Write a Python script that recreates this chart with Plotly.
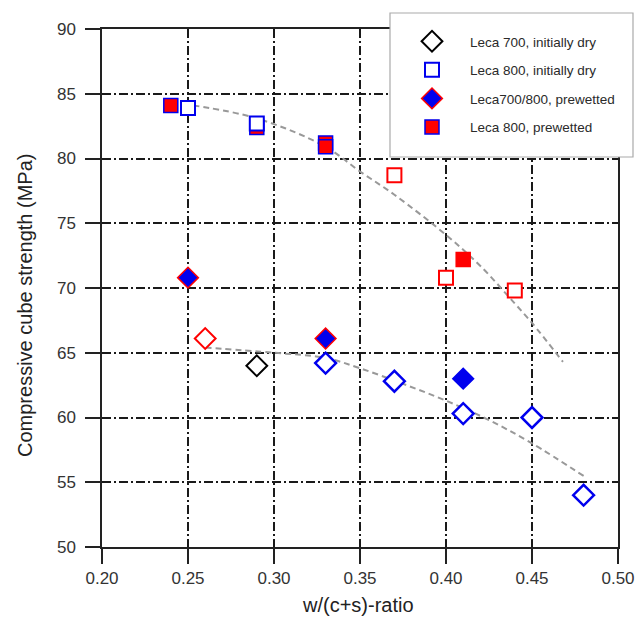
import plotly.graph_objects as go

# ---- data ----
dry700_x = [0.29]
dry700_y = [64.0]

dry800_x = [0.25, 0.29]
dry800_y = [83.9, 82.7]

pre78_x = [0.25, 0.33]
pre78_y = [70.8, 66.1]

pre800_x = [0.24, 0.29, 0.33, 0.33]
pre800_y = [84.1, 82.4, 81.2, 80.9]

red_open_sq_x = [0.37, 0.40, 0.44]
red_open_sq_y = [78.7, 70.8, 69.8]

red_open_dia_x = [0.26]
red_open_dia_y = [66.1]

blue_open_dia_x = [0.33, 0.37, 0.41, 0.45, 0.48]
blue_open_dia_y = [64.2, 62.8, 60.3, 60.0, 54.0]

blue_fill_dia_x = [0.41]
blue_fill_dia_y = [63.0]

red_fill_sq_x = [0.41]
red_fill_sq_y = [72.2]

trend_up_x = [0.253, 0.29, 0.33, 0.35, 0.37, 0.40, 0.42, 0.44, 0.45, 0.468]
trend_up_y = [84.1, 83.1, 80.9, 79.0, 77.2, 74.1, 71.7, 68.8, 67.3, 64.3]

trend_lo_x = [0.26, 0.30, 0.33, 0.35, 0.375, 0.40, 0.425, 0.45, 0.481]
trend_lo_y = [65.4, 65.0, 64.6, 63.8, 62.6, 61.3, 59.8, 58.0, 55.4]

x_ticks = [0.20, 0.25, 0.30, 0.35, 0.40, 0.45, 0.50]
x_tick_labels = ["0.20", "0.25", "0.30", "0.35", "0.40", "0.45", "0.50"]
y_ticks = [50, 55, 60, 65, 70, 75, 80, 85, 90]

BLUE = "#0000ee"
RED = "#ff0000"

fig = go.Figure()

for tx, ty in [(trend_up_x, trend_up_y), (trend_lo_x, trend_lo_y)]:
    fig.add_trace(go.Scatter(x=tx, y=ty, mode="lines", showlegend=False,
                             line=dict(color="#999999", width=2, dash="6px,4px", shape="spline"),
                             hoverinfo="skip"))

def mk(x, y, name, symbol, fill, edge, lw, size=14, legend=False, rank=1000):
    fig.add_trace(go.Scatter(
        x=x, y=y, mode="markers", name=name, showlegend=legend,
        legendgroup=name, legendrank=rank,
        marker=dict(symbol=symbol, size=size, color=fill,
                    line=dict(color=edge, width=lw))))

mk(red_open_sq_x, red_open_sq_y, "r_open_sq", "square", "white", RED, 2)
mk(red_open_dia_x, red_open_dia_y, "r_open_dia", "diamond", "white", RED, 2, size=16)
mk(blue_open_dia_x, blue_open_dia_y, "b_open_dia", "diamond", "white", BLUE, 2.5, size=16)
mk(blue_fill_dia_x, blue_fill_dia_y, "b_fill_dia", "diamond", BLUE, BLUE, 1.5, size=16)
mk(red_fill_sq_x, red_fill_sq_y, "r_fill_sq", "square", RED, RED, 1.5)

# drawing order: prewetted squares beneath the open dry squares
mk(pre800_x, pre800_y, "Leca 800, prewetted", "square", RED, BLUE, 1.5, legend=True, rank=4)
mk(dry700_x, dry700_y, "Leca 700, initially dry", "diamond", "white", "black", 2, size=16, legend=True, rank=1)
mk(dry800_x, dry800_y, "Leca 800, initially dry", "square", "white", BLUE, 2, legend=True, rank=2)
mk(pre78_x, pre78_y, "Leca700/800, prewetted", "diamond", BLUE, RED, 1.5, size=16, legend=True, rank=3)

axis_common = dict(
    showline=True, linecolor="#222222", linewidth=1.5, mirror=True,
    ticks="outside", ticklen=15, tickwidth=1.5, tickcolor="#222222",
    showgrid=True, gridcolor="#1a1a1a", gridwidth=1.6, griddash="9px,3px,2px,3px",
    zeroline=False,
    tickfont=dict(family="Liberation Sans, Arial", size=17, color="#333333"),
)

fig.update_xaxes(range=[0.2, 0.5], tickvals=x_ticks, ticktext=x_tick_labels, **axis_common)
fig.update_yaxes(range=[50, 90], tickvals=y_ticks, ticklabelstandoff=6, **axis_common)

W, H = 635, 618
ml, mr, mt, mb = 102, 17, 29, 71
pw, ph = W - ml - mr, H - mt - mb

def px(xp):
    return (xp - ml) / pw

def py(yp):
    return 1 - (yp - mt) / ph

fig.update_layout(
    width=W, height=H, autosize=False,
    margin=dict(l=ml, r=mr, t=mt, b=mb, pad=0, autoexpand=False),
    plot_bgcolor="white", paper_bgcolor="white",
    font=dict(family="Liberation Sans, Arial", color="#333333"),
    legend=dict(x=px(394), y=py(26), xanchor="left", yanchor="top",
                bgcolor="rgba(0,0,0,0)", borderwidth=0,
                itemwidth=66, tracegroupgap=8, traceorder="grouped",
                font=dict(family="Liberation Sans, Arial", size=13.5, color="#2a2a2a")),
    shapes=[dict(type="rect", xref="paper", yref="paper",
                 x0=px(390), x1=px(633), y0=py(157), y1=py(13),
                 line=dict(color="#aaaaaa", width=1.2), fillcolor="white", layer="above")],
    annotations=[
        dict(text="Compressive cube strength (MPa)", textangle=-90,
             xref="paper", yref="paper", x=px(25), y=py(306),
             xanchor="center", yanchor="middle", showarrow=False,
             font=dict(family="Liberation Sans, Arial", size=20, color="#222222")),
        dict(text="w/(c+s)-ratio",
             xref="paper", yref="paper", x=px(358), y=py(605),
             xanchor="center", yanchor="middle", showarrow=False,
             font=dict(family="Liberation Sans, Arial", size=20, color="#222222")),
    ],
)

fig.write_html(
    "out.html",
    config={"responsive": False},
    post_script="document.documentElement.style.overflow='hidden';"
                "document.body.style.overflow='hidden';document.body.style.margin='0';",
)
